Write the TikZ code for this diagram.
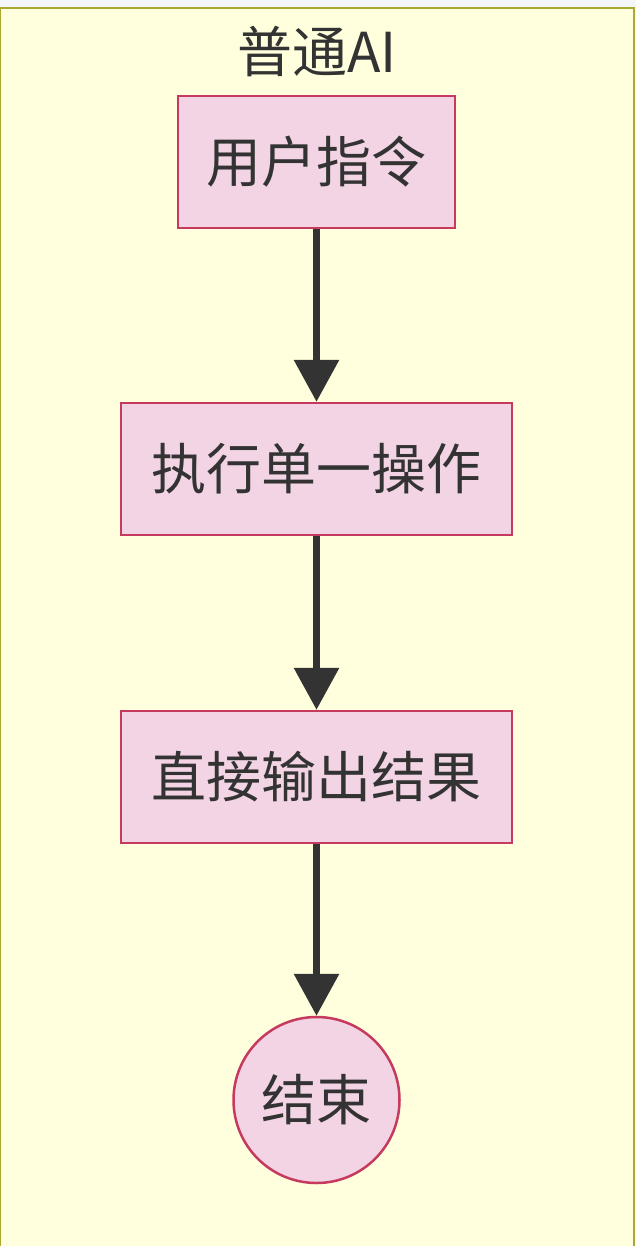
\documentclass[tikz,border=0pt]{standalone}
\usepackage{fontspec}
\setmainfont{Noto Sans CJK SC}
\usetikzlibrary{arrows.meta}
\definecolor{pagebg}{HTML}{F4F6FA}
\definecolor{clusterfill}{HTML}{FFFFDE}
\definecolor{clusterline}{HTML}{AAAA33}
\definecolor{nodefill}{HTML}{F2D4E4}
\definecolor{nodeline}{HTML}{C53A5E}
\definecolor{ink}{HTML}{333333}
\tikzset{
  x=1pt, y=-1pt,
  txt/.style={text=ink, font=\fontsize{55}{60}\selectfont},
  procbox/.style={txt, draw=nodeline, fill=nodefill, line width=2.5pt,
    inner sep=0pt, minimum height=132pt},
  endcirc/.style={txt, circle, draw=nodeline, fill=nodefill, line width=2.5pt,
    inner sep=0pt, minimum size=166pt},
  flow/.style={draw=ink, line width=6.5pt, -{Triangle[length=42pt, width=44pt]}}
}
\begin{document}
\begin{tikzpicture}
\fill[pagebg] (0,0) rectangle (636,1246);
\useasboundingbox (0,0) rectangle (636,1246);
\draw[clusterline, fill=clusterfill, line width=2pt] (0,8) rectangle (634,1252);
\node[txt] (title) at (317,52) {普通AI};
\node[procbox, minimum width=277pt] (n1) at (316.5,162) {用户指令};
\node[procbox, minimum width=391pt] (n2) at (316.5,469) {执行单一操作};
\node[procbox, minimum width=391pt] (n3) at (316.5,777) {直接输出结果};
\node[endcirc] (n4) at (316.5,1100) {结束};
\draw[flow] (n1.south) -- (n2.north);
\draw[flow] (n2.south) -- (n3.north);
\draw[flow] (n3.south) -- (n4.north);
\end{tikzpicture}
\end{document}
